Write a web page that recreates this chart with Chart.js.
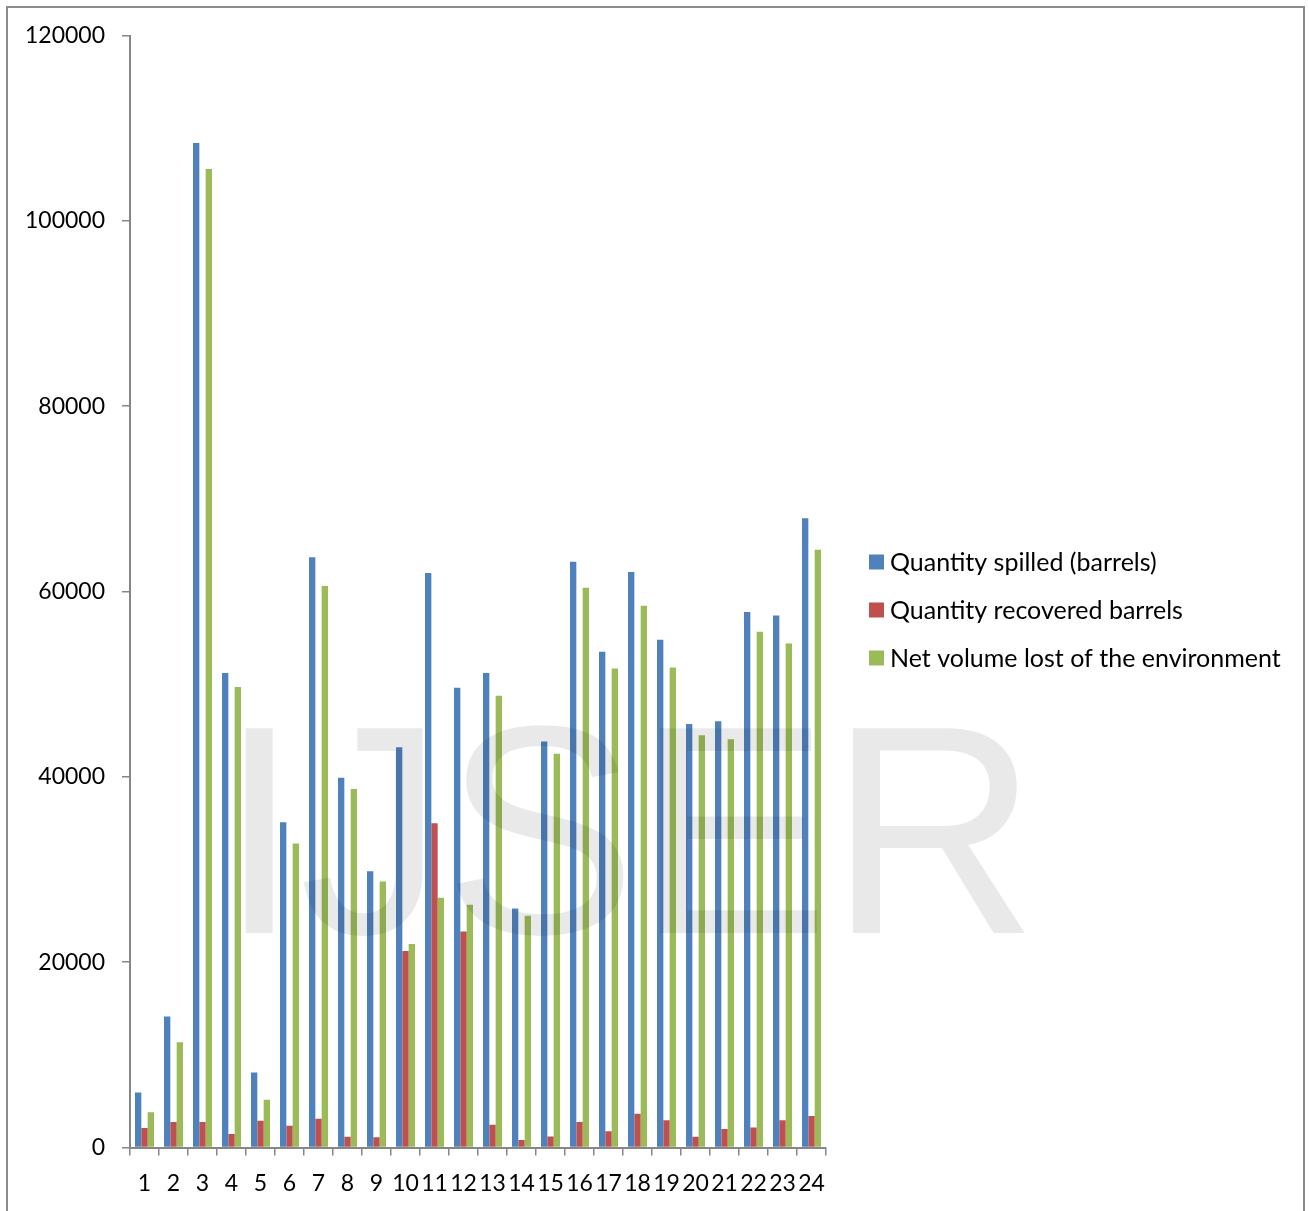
<!DOCTYPE html>
<html>
<head>
<meta charset="utf-8">
<script src="https://cdn.jsdelivr.net/npm/chart.js@4"></script>
<style>
  html, body { margin: 0; padding: 0; background: #fff; }
  #wrap { width: 1309px; height: 1211px; position: relative; }
  canvas { display: block; }
</style>
</head>
<body>
<div id="wrap"><canvas id="c" width="1309" height="1211"></canvas></div>
<script>
// Incident numbers along the x axis
const categories = ['1','2','3','4','5','6','7','8','9','10','11','12',
                    '13','14','15','16','17','18','19','20','21','22','23','24'];

// Barrels per incident
const spilled   = [5940, 14150, 108400, 51200, 8100, 35100, 63700, 39900, 29800, 43200, 62000, 49600,
                   51200, 25800, 43800, 63200, 53500, 62100, 54800, 45700, 46000, 57800, 57400, 67900];
const recovered = [2100, 2750, 2750, 1450, 2900, 2350, 3100, 1150, 1100, 21200, 35000, 23300,
                   2450, 800, 1200, 2750, 1750, 3650, 2950, 1150, 2000, 2150, 2950, 3400];
const netLost   = [3800, 11350, 105600, 49700, 5150, 32800, 60600, 38700, 28700, 21950, 26950, 26200,
                   48750, 25000, 42500, 60400, 51700, 58450, 51800, 44500, 44050, 55650, 54400, 64500];

const seriesNames = ['Quantity spilled (barrels)', 'Quantity recovered barrels', 'Net volume lost of the environment'];
const yTicks = [0, 20000, 40000, 60000, 80000, 100000, 120000];

const FONT = 'Lato, "Open Sans", sans-serif';
const AXIS = '#868686';

// Outer frame, legend on the right and the faint watermark
const decor = {
  id: 'decor',
  beforeDraw(chart) {
    const ctx = chart.ctx;
    ctx.save();
    ctx.fillStyle = '#fff';
    ctx.fillRect(0, 0, chart.width, chart.height);
    ctx.strokeStyle = '#8c8c8c';
    ctx.lineWidth = 2;
    ctx.strokeRect(7, 7, 1297, 1240);
    ctx.restore();
  },
  afterDraw(chart) {
    const ctx = chart.ctx;
    ctx.save();
    // legend
    ctx.font = '25px ' + FONT;
    ctx.textBaseline = 'middle';
    ctx.textAlign = 'left';
    chart.data.datasets.forEach((ds, i) => {
      const cy = 562 + i * 48;
      ctx.fillStyle = ds.backgroundColor;
      ctx.fillRect(869, cy - 7.5, 15, 15);
      ctx.fillStyle = '#000';
      ctx.fillText(ds.label, 890, cy + 1);
    });
    // watermark
    ctx.translate(219, 933);
    ctx.scale(1, 1.03);
    ctx.font = '289px "Liberation Sans", Arial, sans-serif';
    ctx.textBaseline = 'alphabetic';
    ctx.fillStyle = 'rgba(0,0,0,0.086)';
    ctx.fillText('IJSER', 0, 0);
    ctx.restore();
  }
};

new Chart(document.getElementById('c'), {
  type: 'bar',
  data: {
    labels: categories,
    datasets: [
      { label: seriesNames[0], data: spilled,   backgroundColor: '#4F81BD' },
      { label: seriesNames[1], data: recovered, backgroundColor: '#C0504D' },
      { label: seriesNames[2], data: netLost,   backgroundColor: '#9BBB59' }
    ]
  },
  options: {
    responsive: false,
    animation: false,
    devicePixelRatio: 1,
    layout: { padding: { left: 0, top: 35.5, right: 483, bottom: 0 } },
    datasets: { bar: { categoryPercentage: 0.655, barPercentage: 1.0 } },
    plugins: { legend: { display: false }, tooltip: { enabled: false } },
    scales: {
      x: {
        afterFit(scale) { scale.height = 63.5; },
        grid: { display: true, drawOnChartArea: false, drawTicks: true, tickLength: 8, color: AXIS, lineWidth: 1.5, offset: true },
        border: { display: true, color: AXIS, width: 2 },
        ticks: { color: '#000', font: { family: FONT, size: 23 }, autoSkip: false, maxRotation: 0, padding: 14 }
      },
      y: {
        min: 0,
        max: 120000,
        afterFit(scale) { scale.width = 130; },
        afterBuildTicks(scale) { scale.ticks = yTicks.map(v => ({ value: v })); },
        grid: { display: true, drawOnChartArea: false, drawTicks: true, tickLength: 8, color: AXIS, lineWidth: 1.5 },
        border: { display: true, color: AXIS, width: 2 },
        ticks: { color: '#000', font: { family: FONT, size: 23 }, padding: 17, callback: v => String(v) }
      }
    }
  },
  plugins: [decor]
});
</script>
</body>
</html>
